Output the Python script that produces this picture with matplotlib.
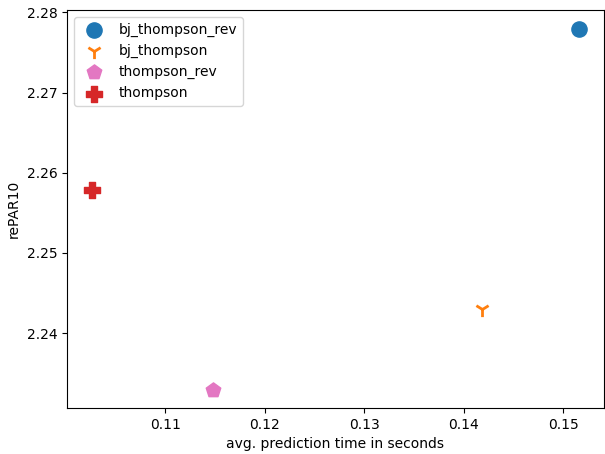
import matplotlib
matplotlib.use("Agg")
import matplotlib.pyplot as plt

names = ["bj_thompson_rev", "bj_thompson", "thompson_rev", "thompson"]
pred_time = [0.1516, 0.1418, 0.1148, 0.1026]
repar10 = [2.2780, 2.2430, 2.2329, 2.2578]
markers = ["o", "1", "p", "P"]
colors = ["tab:blue", "tab:orange", "tab:pink", "tab:red"]

fig, ax = plt.subplots(figsize=(6.05, 4.54), dpi=100)
fig.subplots_adjust(left=0.111, right=0.998, top=0.977, bottom=0.101)

for name, x, y, m, c in zip(names, pred_time, repar10, markers, colors):
    ax.scatter([x], [y], marker=m, color=c, s=120, label=name,
               linewidths=2 if m == "1" else None)

ax.set_xlabel("avg. prediction time in seconds")
ax.set_ylabel("rePAR10")
ax.legend(loc="upper left")

fig.savefig("out.png")
